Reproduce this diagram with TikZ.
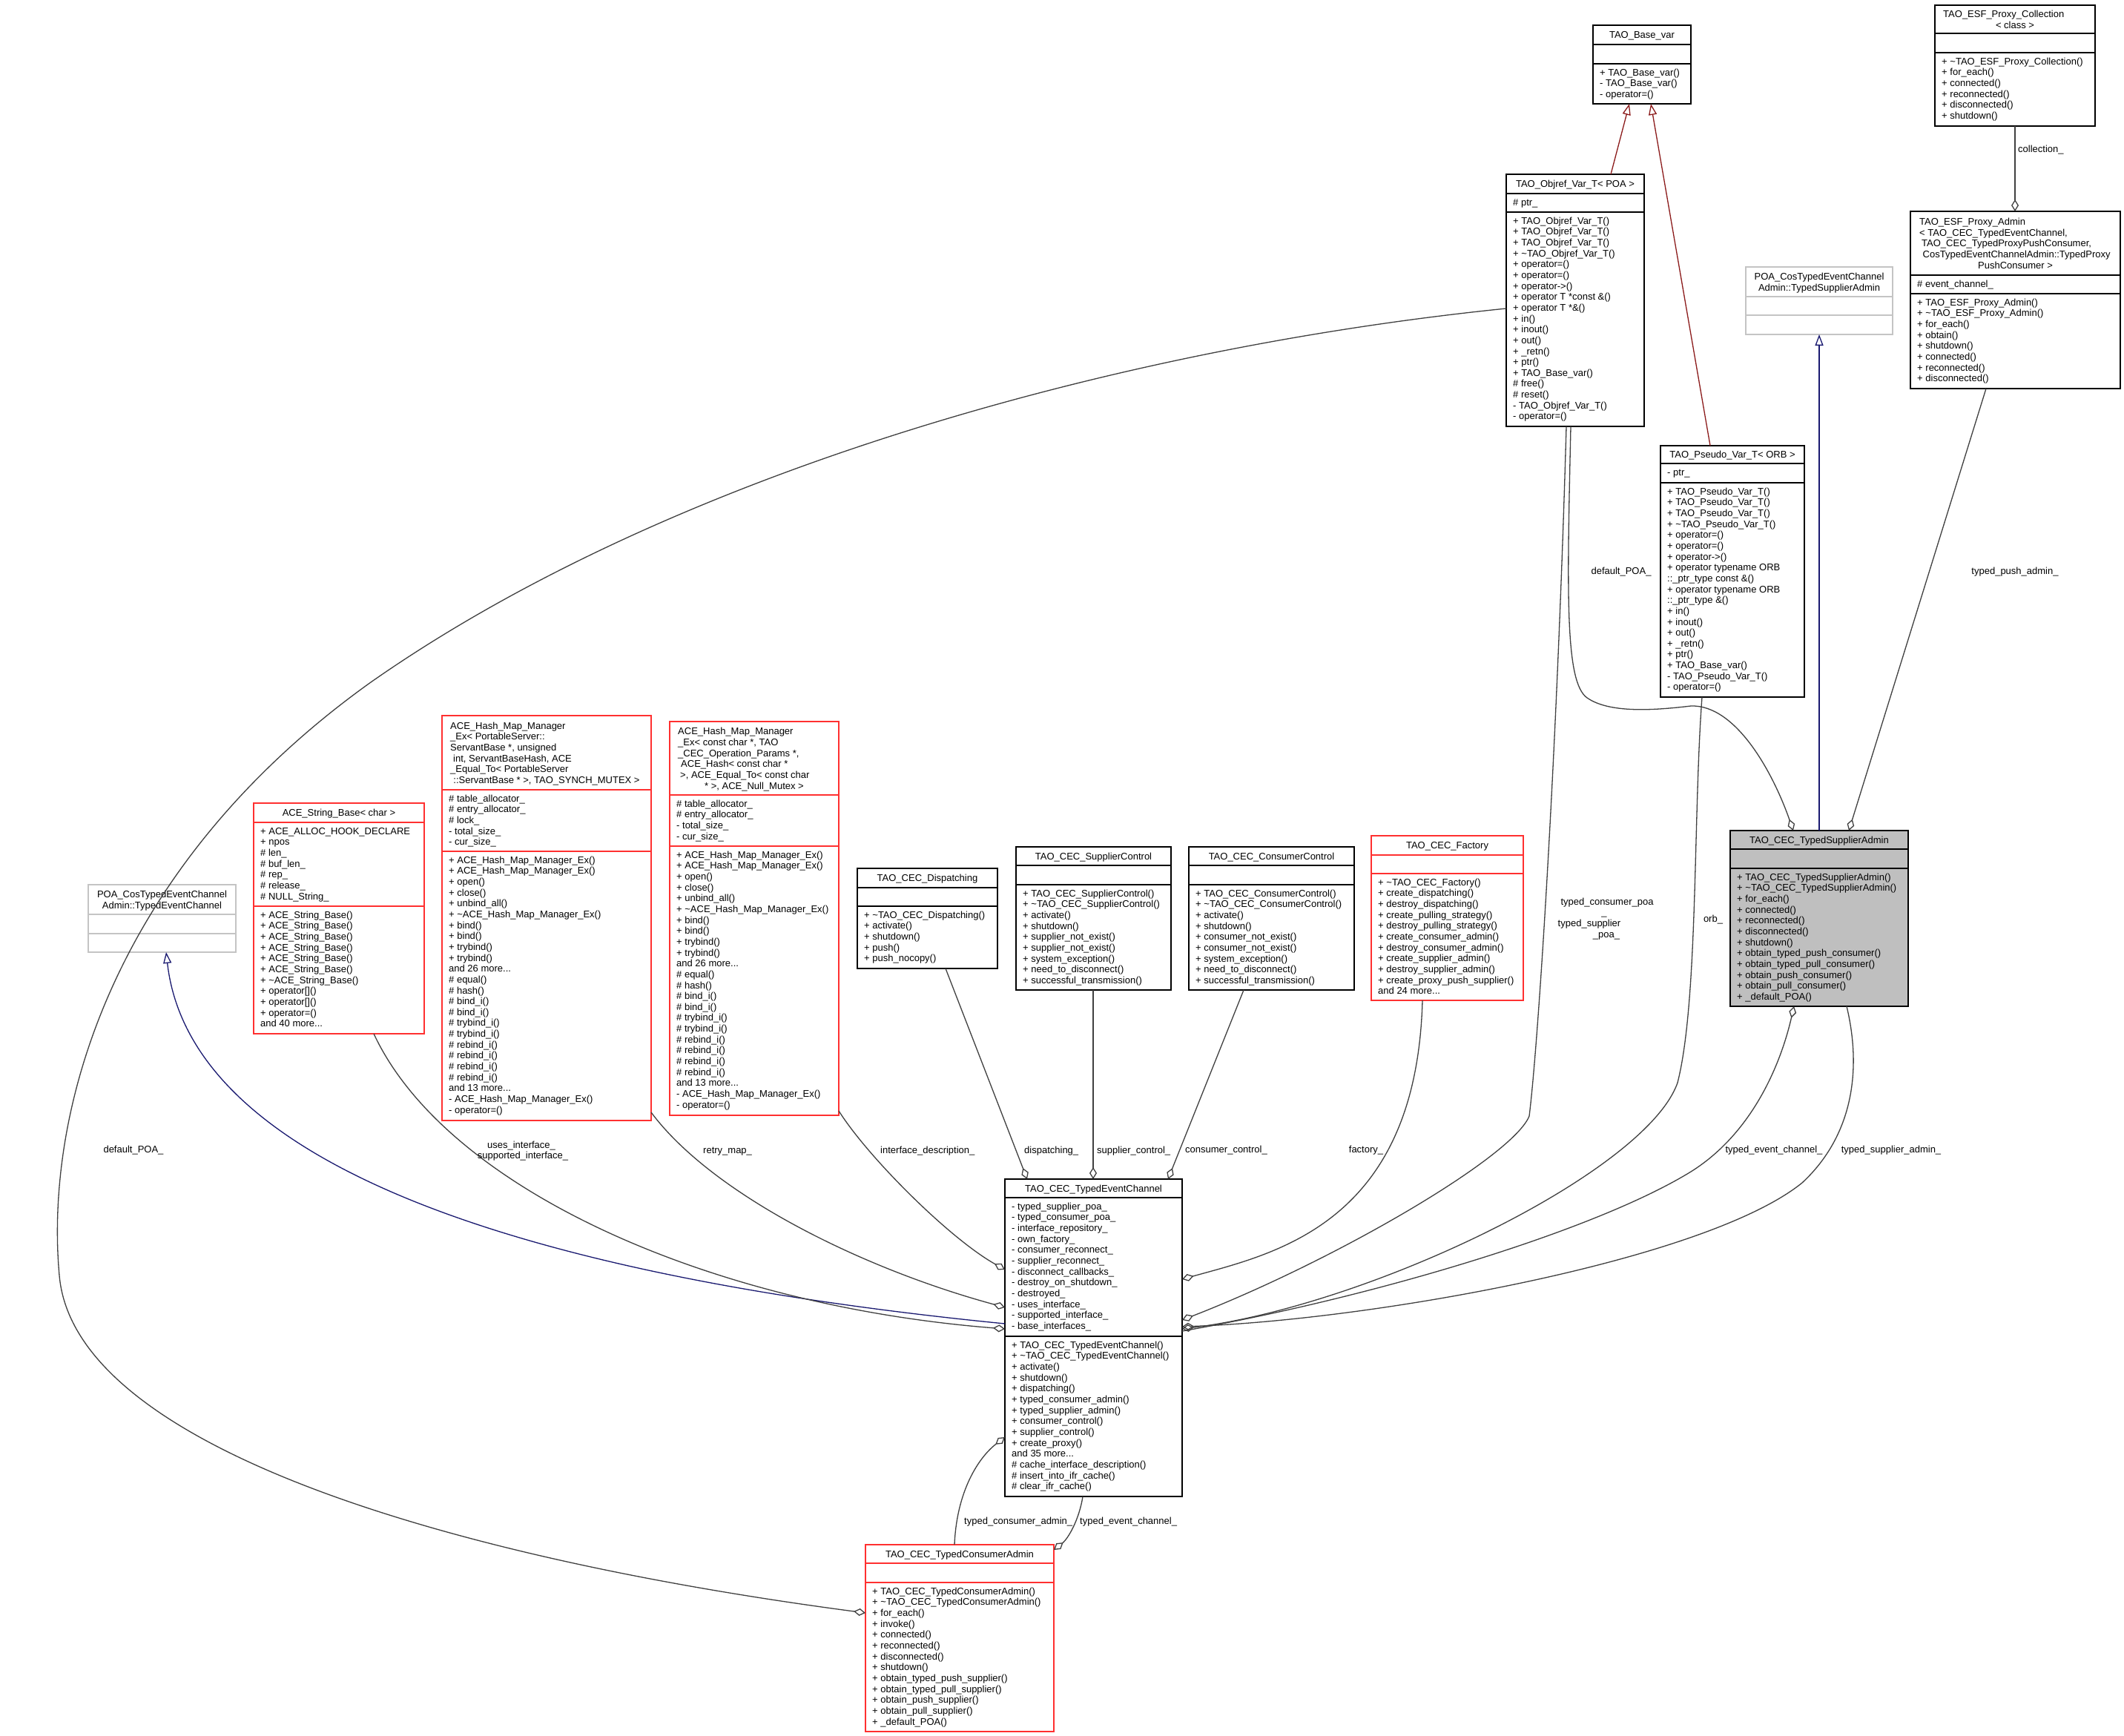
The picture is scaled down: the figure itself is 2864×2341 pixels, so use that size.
\documentclass[tikz,border=0pt]{standalone}
\usepackage{fontspec}
\setmainfont{Liberation Sans}
\usetikzlibrary{arrows.meta,calc}
\definecolor{boxred}{HTML}{FF3030}
\definecolor{boxgray}{HTML}{BFBFBF}
\definecolor{poagray}{HTML}{C4C4C4}
\definecolor{edgegray}{HTML}{404040}
\definecolor{inhblue}{HTML}{191970}
\definecolor{inhred}{HTML}{8B1A1A}
\newcommand\fl{\rule{0pt}{10pt}}
\newcommand\tld{\textasciitilde}
% #1 name #2 border colour #3 fill #4 x1 #5 y1 #6 x2 #7 y2 #8 first divider #9 second divider
\newcommand\ubox[9]{%
  \node[draw=#2, fill=#3, line width=1.6pt, anchor=north west, inner sep=0pt, outer sep=0pt,
        minimum width={(#6)-(#4)}, minimum height={(#7)-(#5)}] (#1) at (#4,#5) {};
  \draw[#2, line width=1.6pt] (#4,#8) -- (#6,#8);
  \draw[#2, line width=1.6pt] (#4,#9) -- (#6,#9);
}
\begin{document}
\begin{tikzpicture}[x=1pt,y=-1pt,
  every node/.style={font=\fontsize{13}{14.65}\selectfont},
  txt/.style={anchor=north west, inner sep=0pt, align=left},
  ttl/.style={anchor=north, inner sep=0pt, align=center},
  lbl/.style={inner sep=0pt},
  edge/.style={draw=edgegray, line width=1.3pt, -{Diamond[open,length=16pt,width=10pt,line width=1.3pt]}},
  inhb/.style={draw=inhblue, line width=1.3pt, -{Triangle[open,length=15pt,width=11pt,line width=1.3pt]}},
  inhr/.style={draw=inhred, line width=1.3pt, -{Triangle[open,length=15pt,width=11pt,line width=1.3pt]}},
]
\useasboundingbox (0,0) rectangle (2864,2341);
\fill[white] (0,0) rectangle (2864,2341);

% ---------------- boxes ----------------
\ubox{bv}{black}{white}{2148}{34}{2280}{140}{60}{86}
\node[ttl] (bv-t) at (2214,41.6) {\fl TAO\_Base\_var};
\node[txt] (bv-m) at (2157,92) {\fl + TAO\_Base\_var()\\- TAO\_Base\_var()\\- operator=()};

\ubox{ov}{black}{white}{2031}{235}{2217}{575}{261}{286}
\node[ttl] (ov-t) at (2124,242.6) {\fl TAO\_Objref\_Var\_T< POA >};
\node[txt] (ov-a) at (2040,267) {\fl \# ptr\_};
\node[txt] (ov-m) at (2040,292) {\fl + TAO\_Objref\_Var\_T()\\+ TAO\_Objref\_Var\_T()\\+ TAO\_Objref\_Var\_T()\\+ \tld TAO\_Objref\_Var\_T()\\+ operator=()\\+ operator=()\\+ operator->()\\+ operator T *const \&()\\+ operator T *\&()\\+ in()\\+ inout()\\+ out()\\+ \_retn()\\+ ptr()\\+ TAO\_Base\_var()\\\# free()\\\# reset()\\- TAO\_Objref\_Var\_T()\\- operator=()};

\ubox{pv}{black}{white}{2239}{601}{2433}{940}{625}{651}
\node[ttl] (pv-t) at (2336,607.6) {\fl TAO\_Pseudo\_Var\_T< ORB >};
\node[txt] (pv-a) at (2248,631) {\fl - ptr\_};
\node[txt] (pv-m) at (2248,657) {\fl + TAO\_Pseudo\_Var\_T()\\+ TAO\_Pseudo\_Var\_T()\\+ TAO\_Pseudo\_Var\_T()\\+ \tld TAO\_Pseudo\_Var\_T()\\+ operator=()\\+ operator=()\\+ operator->()\\+ operator typename ORB\\::\_ptr\_type const \&()\\+ operator typename ORB\\::\_ptr\_type \&()\\+ in()\\+ inout()\\+ out()\\+ \_retn()\\+ ptr()\\+ TAO\_Base\_var()\\- TAO\_Pseudo\_Var\_T()\\- operator=()};

\ubox{psa}{poagray}{white}{2354}{360}{2552}{451}{400}{425}
\node[ttl] (psa-t) at (2453,367.3) {\fl POA\_CosTypedEventChannel\\Admin::TypedSupplierAdmin};

\ubox{epc}{black}{white}{2609}{7}{2825}{170}{45}{71}
\node[txt] (epc-t) at (2620,13.3) {\fl TAO\_ESF\_Proxy\_Collection};
\node[ttl] (epc-t2) at (2717,28) {\fl < class >};
\node[txt] (epc-m) at (2618,77) {\fl + \tld TAO\_ESF\_Proxy\_Collection()\\+ for\_each()\\+ connected()\\+ reconnected()\\+ disconnected()\\+ shutdown()};

\ubox{epa}{black}{white}{2576}{285}{2859}{524}{371}{396}
\node[txt] (epa-t) at (2588,293.3) {\fl TAO\_ESF\_Proxy\_Admin\\< TAO\_CEC\_TypedEventChannel,\\\hspace*{3pt}TAO\_CEC\_TypedProxyPushConsumer,\\\hspace*{4.5pt}CosTypedEventChannelAdmin::TypedProxy};
\node[ttl] (epa-t2) at (2717.5,351.9) {\fl PushConsumer >};
\node[txt] (epa-a) at (2585,377) {\fl \# event\_channel\_};
\node[txt] (epa-m) at (2585,402) {\fl + TAO\_ESF\_Proxy\_Admin()\\+ \tld TAO\_ESF\_Proxy\_Admin()\\+ for\_each()\\+ obtain()\\+ shutdown()\\+ connected()\\+ reconnected()\\+ disconnected()};

\ubox{tsa}{black}{boxgray}{2333}{1120}{2573}{1357}{1145}{1171}
\node[ttl] (tsa-t) at (2453,1127.1) {\fl TAO\_CEC\_TypedSupplierAdmin};
\node[txt] (tsa-m) at (2342,1177) {\fl + TAO\_CEC\_TypedSupplierAdmin()\\+ \tld TAO\_CEC\_TypedSupplierAdmin()\\+ for\_each()\\+ connected()\\+ reconnected()\\+ disconnected()\\+ shutdown()\\+ obtain\_typed\_push\_consumer()\\+ obtain\_typed\_pull\_consumer()\\+ obtain\_push\_consumer()\\+ obtain\_pull\_consumer()\\+ \_default\_POA()};

\ubox{pec}{poagray}{white}{119}{1193}{318}{1284}{1233}{1259}
\node[ttl] (pec-t) at (218.5,1200.3) {\fl POA\_CosTypedEventChannel\\Admin::TypedEventChannel};

\ubox{sb}{boxred}{white}{342}{1083}{572}{1394}{1109}{1222}
\node[ttl] (sb-t) at (457,1090.6) {\fl ACE\_String\_Base< char >};
\node[txt] (sb-a) at (351,1115) {\fl + ACE\_ALLOC\_HOOK\_DECLARE\\+ npos\\\# len\_\\\# buf\_len\_\\\# rep\_\\\# release\_\\\# NULL\_String\_};
\node[txt] (sb-m) at (351,1228) {\fl + ACE\_String\_Base()\\+ ACE\_String\_Base()\\+ ACE\_String\_Base()\\+ ACE\_String\_Base()\\+ ACE\_String\_Base()\\+ ACE\_String\_Base()\\+ \tld ACE\_String\_Base()\\+ operator[]()\\+ operator[]()\\+ operator=()\\and 40 more...};

\ubox{hm1}{boxred}{white}{596}{965}{878}{1511}{1065}{1148}
\node[txt] (hm1-t) at (607,973) {\fl ACE\_Hash\_Map\_Manager\\\_Ex< PortableServer::\\ServantBase *, unsigned\\\hspace*{4pt}int, ServantBaseHash, ACE\\\_Equal\_To< PortableServer};
\node[ttl] (hm1-t2) at (737,1046.3) {\fl ::ServantBase * >, TAO\_SYNCH\_MUTEX >};
\node[txt] (hm1-a) at (605,1071) {\fl \# table\_allocator\_\\\# entry\_allocator\_\\\# lock\_\\- total\_size\_\\- cur\_size\_};
\node[txt] (hm1-m) at (605,1154) {\fl + ACE\_Hash\_Map\_Manager\_Ex()\\+ ACE\_Hash\_Map\_Manager\_Ex()\\+ open()\\+ close()\\+ unbind\_all()\\+ \tld ACE\_Hash\_Map\_Manager\_Ex()\\+ bind()\\+ bind()\\+ trybind()\\+ trybind()\\and 26 more...\\\# equal()\\\# hash()\\\# bind\_i()\\\# bind\_i()\\\# trybind\_i()\\\# trybind\_i()\\\# rebind\_i()\\\# rebind\_i()\\\# rebind\_i()\\\# rebind\_i()\\and 13 more...\\- ACE\_Hash\_Map\_Manager\_Ex()\\- operator=()};

\ubox{hm2}{boxred}{white}{903}{973}{1131}{1504}{1072}{1141}
\node[txt] (hm2-t) at (914,980.5) {\fl ACE\_Hash\_Map\_Manager\\\_Ex< const char *, TAO\\\_CEC\_Operation\_Params *,\\\hspace*{4pt}ACE\_Hash< const char *\\\hspace*{3pt}>, ACE\_Equal\_To< const char};
\node[ttl] (hm2-t2) at (1017,1053.8) {\fl * >, ACE\_Null\_Mutex >};
\node[txt] (hm2-a) at (912,1078) {\fl \# table\_allocator\_\\\# entry\_allocator\_\\- total\_size\_\\- cur\_size\_};
\node[txt] (hm2-m) at (912,1147) {\fl + ACE\_Hash\_Map\_Manager\_Ex()\\+ ACE\_Hash\_Map\_Manager\_Ex()\\+ open()\\+ close()\\+ unbind\_all()\\+ \tld ACE\_Hash\_Map\_Manager\_Ex()\\+ bind()\\+ bind()\\+ trybind()\\+ trybind()\\and 26 more...\\\# equal()\\\# hash()\\\# bind\_i()\\\# bind\_i()\\\# trybind\_i()\\\# trybind\_i()\\\# rebind\_i()\\\# rebind\_i()\\\# rebind\_i()\\\# rebind\_i()\\and 13 more...\\- ACE\_Hash\_Map\_Manager\_Ex()\\- operator=()};

\ubox{dis}{black}{white}{1156}{1171}{1345}{1306}{1197}{1222}
\node[ttl] (dis-t) at (1250.5,1178.6) {\fl TAO\_CEC\_Dispatching};
\node[txt] (dis-m) at (1165,1228) {\fl + \tld TAO\_CEC\_Dispatching()\\+ activate()\\+ shutdown()\\+ push()\\+ push\_nocopy()};

\ubox{sc}{black}{white}{1370}{1142}{1579}{1335}{1167}{1193}
\node[ttl] (sc-t) at (1474.5,1149.1) {\fl TAO\_CEC\_SupplierControl};
\node[txt] (sc-m) at (1379,1199) {\fl + TAO\_CEC\_SupplierControl()\\+ \tld TAO\_CEC\_SupplierControl()\\+ activate()\\+ shutdown()\\+ supplier\_not\_exist()\\+ supplier\_not\_exist()\\+ system\_exception()\\+ need\_to\_disconnect()\\+ successful\_transmission()};

\ubox{cc}{black}{white}{1603}{1142}{1826}{1335}{1167}{1193}
\node[ttl] (cc-t) at (1714.5,1149.1) {\fl TAO\_CEC\_ConsumerControl};
\node[txt] (cc-m) at (1612,1199) {\fl + TAO\_CEC\_ConsumerControl()\\+ \tld TAO\_CEC\_ConsumerControl()\\+ activate()\\+ shutdown()\\+ consumer\_not\_exist()\\+ consumer\_not\_exist()\\+ system\_exception()\\+ need\_to\_disconnect()\\+ successful\_transmission()};

\ubox{fac}{boxred}{white}{1849}{1127}{2054}{1349}{1153}{1178}
\node[ttl] (fac-t) at (1951.5,1134.6) {\fl TAO\_CEC\_Factory};
\node[txt] (fac-m) at (1858,1184) {\fl + \tld TAO\_CEC\_Factory()\\+ create\_dispatching()\\+ destroy\_dispatching()\\+ create\_pulling\_strategy()\\+ destroy\_pulling\_strategy()\\+ create\_consumer\_admin()\\+ destroy\_consumer\_admin()\\+ create\_supplier\_admin()\\+ destroy\_supplier\_admin()\\+ create\_proxy\_push\_supplier()\\and 24 more...};

\ubox{tec}{black}{white}{1355}{1590}{1594}{2018}{1615}{1802}
\node[ttl] (tec-t) at (1474.5,1597.1) {\fl TAO\_CEC\_TypedEventChannel};
\node[txt] (tec-a) at (1364,1621) {\fl - typed\_supplier\_poa\_\\- typed\_consumer\_poa\_\\- interface\_repository\_\\- own\_factory\_\\- consumer\_reconnect\_\\- supplier\_reconnect\_\\- disconnect\_callbacks\_\\- destroy\_on\_shutdown\_\\- destroyed\_\\- uses\_interface\_\\- supported\_interface\_\\- base\_interfaces\_};
\node[txt] (tec-m) at (1364,1808) {\fl + TAO\_CEC\_TypedEventChannel()\\+ \tld TAO\_CEC\_TypedEventChannel()\\+ activate()\\+ shutdown()\\+ dispatching()\\+ typed\_consumer\_admin()\\+ typed\_supplier\_admin()\\+ consumer\_control()\\+ supplier\_control()\\+ create\_proxy()\\and 35 more...\\\# cache\_interface\_description()\\\# insert\_into\_ifr\_cache()\\\# clear\_ifr\_cache()};

\ubox{tca}{boxred}{white}{1167}{2083}{1421}{2335}{2108}{2134}
\node[ttl] (tca-t) at (1294,2090.1) {\fl TAO\_CEC\_TypedConsumerAdmin};
\node[txt] (tca-m) at (1176,2140) {\fl + TAO\_CEC\_TypedConsumerAdmin()\\+ \tld TAO\_CEC\_TypedConsumerAdmin()\\+ for\_each()\\+ invoke()\\+ connected()\\+ reconnected()\\+ disconnected()\\+ shutdown()\\+ obtain\_typed\_push\_supplier()\\+ obtain\_typed\_pull\_supplier()\\+ obtain\_push\_supplier()\\+ obtain\_pull\_supplier()\\+ \_default\_POA()};

% ---------------- inheritance ----------------
\draw[inhr] ($(ov.north west)+(141,0)$) -- ($(bv.south west)+(49,0)$);
\draw[inhr] ($(pv.north west)+(67,0)$) -- ($(bv.south west)+(78,0)$);
\draw[inhb] ($(tsa.north west)+(120,0)$) -- ($(psa.south west)+(99,0)$);
\draw[inhb] ($(tec.north west)+(0,195)$) .. controls (800,1730) and (260,1600) .. ($(pec.south west)+(105,0)$);

% ---------------- collaboration ----------------
\draw[edge] ($(epc.south west)+(108,0)$) -- ($(epa.north west)+(141,0)$);
\draw[edge] ($(epa.south west)+(102,0)$) -- ($(tsa.north west)+(160,0)$);
\draw[edge] ($(ov.south west)+(87,0)$) .. controls (2113,800) and (2110,920) .. (2140,941)
   .. controls (2170,962) and (2230,958) .. (2280,952)
   .. controls (2340,950) and (2390,1040) .. ($(tsa.north west)+(85,0)$);
\draw[edge] ($(ov.south west)+(81,0)$) .. controls (2100,1000) and (2075,1400) .. (2062,1505)
   .. controls (2040,1560) and (1800,1700) .. ($(tec.north east)+(0,190)$);
\draw[edge] ($(pv.south west)+(56,0)$) .. controls (2283,1100) and (2290,1350) .. (2262,1460)
   .. controls (2220,1580) and (1850,1760) .. ($(tec.north east)+(0,202)$);
\draw[edge] ($(tec.north east)+(0,205)$) .. controls (1850,1750) and (2150,1660) .. (2280,1580)
   .. controls (2360,1530) and (2400,1440) .. ($(tsa.south west)+(86,0)$);
\draw[edge] ($(tsa.south west)+(157,0)$) .. controls (2510,1440) and (2500,1530) .. (2430,1595)
   .. controls (2300,1700) and (1850,1780) .. ($(tec.north east)+(0,199)$);
\draw[edge] ($(fac.south west)+(69,0)$) .. controls (1910,1650) and (1720,1690) .. ($(tec.north east)+(0,135)$);
\draw[edge] ($(cc.south west)+(74,0)$) -- ($(tec.north west)+(220,0)$);
\draw[edge] ($(sc.south west)+(104,0)$) -- ($(tec.north west)+(119,0)$);
\draw[edge] ($(dis.south west)+(119,0)$) -- ($(tec.north west)+(30,0)$);
\draw[edge] ($(hm2.south east)+(0,-6)$) .. controls (1170,1560) and (1280,1670) .. ($(tec.north west)+(0,122)$);
\draw[edge] ($(hm1.south east)+(0,-11)$) .. controls (960,1610) and (1160,1710) .. ($(tec.north west)+(0,173)$);
\draw[edge] ($(sb.south west)+(162,0)$) .. controls (600,1600) and (950,1760) .. ($(tec.north west)+(0,202)$);
\draw[edge] ($(ov.north west)+(0,181)$) .. controls (1500,470) and (900,640) .. (500,920)
   .. controls (150,1170) and (60,1500) .. (80,1720)
   .. controls (100,1950) and (600,2100) .. ($(tca.north west)+(0,92)$);
\draw[edge] ($(tca.north west)+(120,0)$) .. controls (1290,2010) and (1320,1965) .. ($(tec.north west)+(0,348)$);
\draw[edge] ($(tec.south west)+(105,0)$) .. controls (1455,2050) and (1440,2075) .. ($(tca.north east)+(0,7)$);

% ---------------- labels ----------------
\node[lbl, anchor=base west] (l-coll) at (2721,206) {collection\_};
\node[lbl, anchor=base] (l-tpa) at (2717,774) {typed\_push\_admin\_};
\node[lbl, anchor=base] (l-dpoa1) at (2186,774) {default\_POA\_};
\node[lbl, anchor=base] (l-tcp) at (2167,1220) {typed\_consumer\_poa};
\node[lbl, anchor=base] (l-tcp2) at (2163,1234.6) {\_};
\node[lbl, anchor=base] (l-tsp) at (2143,1249.3) {typed\_supplier};
\node[lbl, anchor=base] (l-tsp2) at (2166,1264) {\_poa\_};
\node[lbl, anchor=base] (l-orb) at (2310,1243) {orb\_};
\node[lbl, anchor=base] (l-tec1) at (2392,1554) {typed\_event\_channel\_};
\node[lbl, anchor=base] (l-tsa1) at (2550,1554) {typed\_supplier\_admin\_};
\node[lbl, anchor=base] (l-fac) at (1842,1554) {factory\_};
\node[lbl, anchor=base west] (l-cc) at (1598,1554) {consumer\_control\_};
\node[lbl, anchor=base west] (l-sc) at (1479,1555) {supplier\_control\_};
\node[lbl, anchor=base west] (l-dis) at (1381,1555) {dispatching\_};
\node[lbl, anchor=base west] (l-ifd) at (1187,1555) {interface\_description\_};
\node[lbl, anchor=base west] (l-rm) at (948,1555) {retry\_map\_};
\node[lbl, anchor=base] (l-ui) at (703,1548) {uses\_interface\_};
\node[lbl, anchor=base] (l-si) at (705,1562) {supported\_interface\_};
\node[lbl, anchor=base] (l-dpoa2) at (180,1554) {default\_POA\_};
\node[lbl, anchor=base west] (l-tca) at (1300,2055) {typed\_consumer\_admin\_};
\node[lbl, anchor=base west] (l-tec2) at (1456,2055) {typed\_event\_channel\_};
\end{tikzpicture}
\end{document}
